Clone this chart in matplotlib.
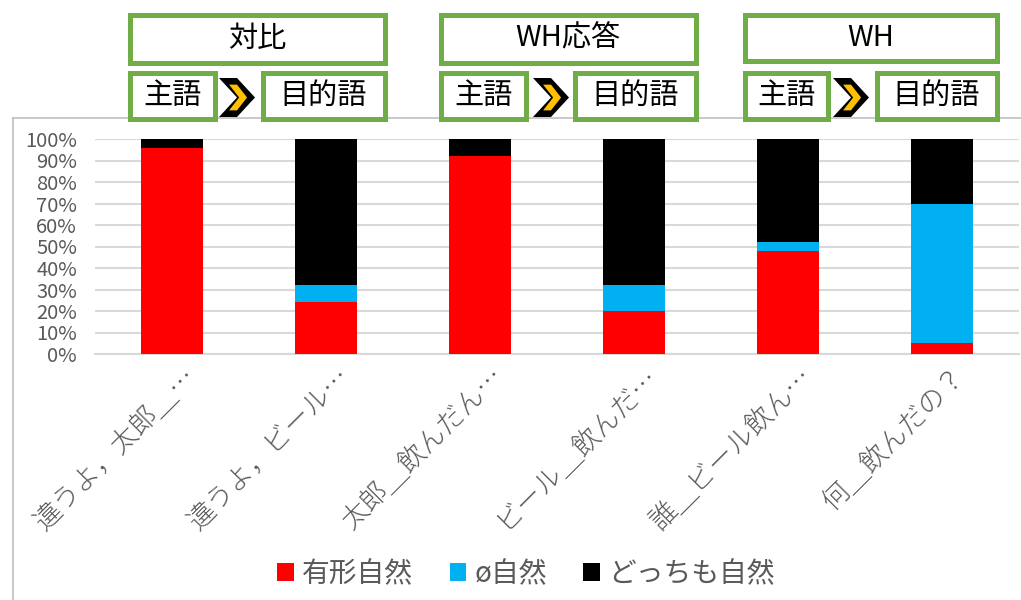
import matplotlib
matplotlib.use("Agg")
import matplotlib.pyplot as plt
from matplotlib.patches import Rectangle, Polygon
from matplotlib.lines import Line2D
from matplotlib.transforms import ScaledTranslation
import numpy as np

plt.rcParams['font.family'] = ['Noto Sans CJK JP', 'DejaVu Sans']

# Data
categories = ["違うよ，太郎＿…", "違うよ，ビール…", "太郎＿飲んだん…",
              "ビール＿飲んだ…", "誰＿ビール飲ん…", "何＿飲んだの？"]
overt_natural = [96, 24, 92, 20, 48, 5]      # 有形自然
null_natural = [0, 8, 0, 12, 4, 65]          # ø自然
both_natural = [4, 68, 8, 68, 48, 30]        # どっちも自然
series_names = ["有形自然", "ø自然", "どっちも自然"]
yticks = [0, 10, 20, 30, 40, 50, 60, 70, 80, 90, 100]

group_titles = ["対比", "WH応答", "WH"]
subject_label = "主語"
object_label = "目的語"

colors = ["#FF0000", "#00B0F0", "#000000"]
TEXT_GRAY = "#595959"
GREEN = "#70AD47"

W, H = 1021, 600
fig = plt.figure(figsize=(W / 100, H / 100), dpi=100)


def fx(px):
    return px / W


def fy(py):
    return 1 - py / H


# chart frame
fig.add_artist(Line2D([fx(13), fx(13)], [fy(118), fy(600)], color="#BFBFBF", lw=1.2))
fig.add_artist(Line2D([fx(13), fx(1021)], [fy(118), fy(118)], color="#BFBFBF", lw=1.2))

ax = fig.add_axes([fx(95), fy(354), fx(1019) - fx(95), fy(139) - fy(354)])
x = np.arange(len(categories))
bw = 0.4
bottom = np.zeros(len(categories))
handles = []
for vals, c, name in zip([overt_natural, null_natural, both_natural], colors, series_names):
    b = ax.bar(x, vals, bw, bottom=bottom, color=c, label=name, zorder=3)
    handles.append(b)
    bottom += np.array(vals)

ax.set_xlim(-0.5, len(categories) - 0.5)
ax.set_ylim(0, 100)
ax.set_yticks(yticks)
ax.set_yticklabels([f"{v}%" for v in yticks], fontsize=14.5, color=TEXT_GRAY)
ax.yaxis.grid(True, color="#D9D9D9", lw=1.5, zorder=0)
ax.set_axisbelow(True)
for s in ["top", "right", "left"]:
    ax.spines[s].set_visible(False)
ax.spines["bottom"].set_color("#D9D9D9")
ax.spines["bottom"].set_linewidth(1.5)
ax.tick_params(axis="both", length=0)
ax.tick_params(axis="y", pad=13)
ax.set_xticks(x)
ax.set_xticklabels(categories, rotation=45, ha="right", rotation_mode="anchor",
                   fontsize=19.5, color=TEXT_GRAY, fontweight="light")
shift = ScaledTranslation(10 / 100, 8 / 100, fig.dpi_scale_trans)
for lbl in ax.get_xticklabels():
    lbl.set_y(-0.05)
    lbl.set_transform(lbl.get_transform() + shift)

# legend
leg = fig.legend(handles=handles, labels=series_names, loc="center",
                 bbox_to_anchor=(fx(526), fy(574)), ncol=3, frameon=False,
                 handlelength=0.6, handleheight=0.6, handletextpad=0.3,
                 columnspacing=1.3, fontsize=20)
for t in leg.get_texts():
    t.set_color(TEXT_GRAY)


def box(x0, y0, x1, y1, text, size=21):
    lw_px = 5
    r = Rectangle((fx(x0 + lw_px / 2), fy(y1 - lw_px / 2)),
                  fx(x1 - x0 - lw_px), (y1 - y0 - lw_px) / H,
                  transform=fig.transFigure, facecolor="white",
                  edgecolor=GREEN, lw=lw_px * 0.72, zorder=5)
    fig.add_artist(r)
    fig.text(fx((x0 + x1) / 2), fy((y0 + y1) / 2), text, ha="center", va="center",
             fontsize=size, color="black", zorder=6)


def chevron(x0, x1, y0, y1):
    w = x1 - x0
    ym = (y0 + y1) / 2
    outer = [(x0, y0), (x0 + w * 0.5, y0), (x1, ym), (x0 + w * 0.5, y1),
             (x0, y1), (x0 + w * 0.5, ym)]
    fig.add_artist(Polygon([(fx(a), fy(b)) for a, b in outer], closed=True,
                           transform=fig.transFigure, facecolor="black",
                           edgecolor="none", zorder=5))
    h = y1 - y0
    inner = [(x0 + w * 0.28, y0 + h * 0.17), (x0 + w * 0.50, y0 + h * 0.17),
             (x0 + w * 0.78, ym), (x0 + w * 0.50, y1 - h * 0.17),
             (x0 + w * 0.28, y1 - h * 0.17), (x0 + w * 0.56, ym)]
    fig.add_artist(Polygon([(fx(a), fy(b)) for a, b in inner], closed=True,
                           transform=fig.transFigure, facecolor="#FFC000",
                           edgecolor="none", zorder=6))


groups = [
    # title box, subject box, chevron, object box (pixel extents)
    ((127, 12, 387, 65), (127, 70, 217, 121), (219, 255), (260, 70, 387, 121)),
    ((438, 12, 698, 65), (438, 70, 528, 121), (533, 569), (572, 70, 698, 121)),
    ((742, 12, 999, 63), (742, 70, 830, 121), (833, 869), (874, 70, 999, 121)),
]
for title, (tb, sb, cv, ob) in zip(group_titles, groups):
    box(*tb, title)
    box(*sb, subject_label)
    chevron(cv[0], cv[1], 78, 117)
    box(*ob, object_label)

fig.savefig("out.png", dpi=100, facecolor="white")
